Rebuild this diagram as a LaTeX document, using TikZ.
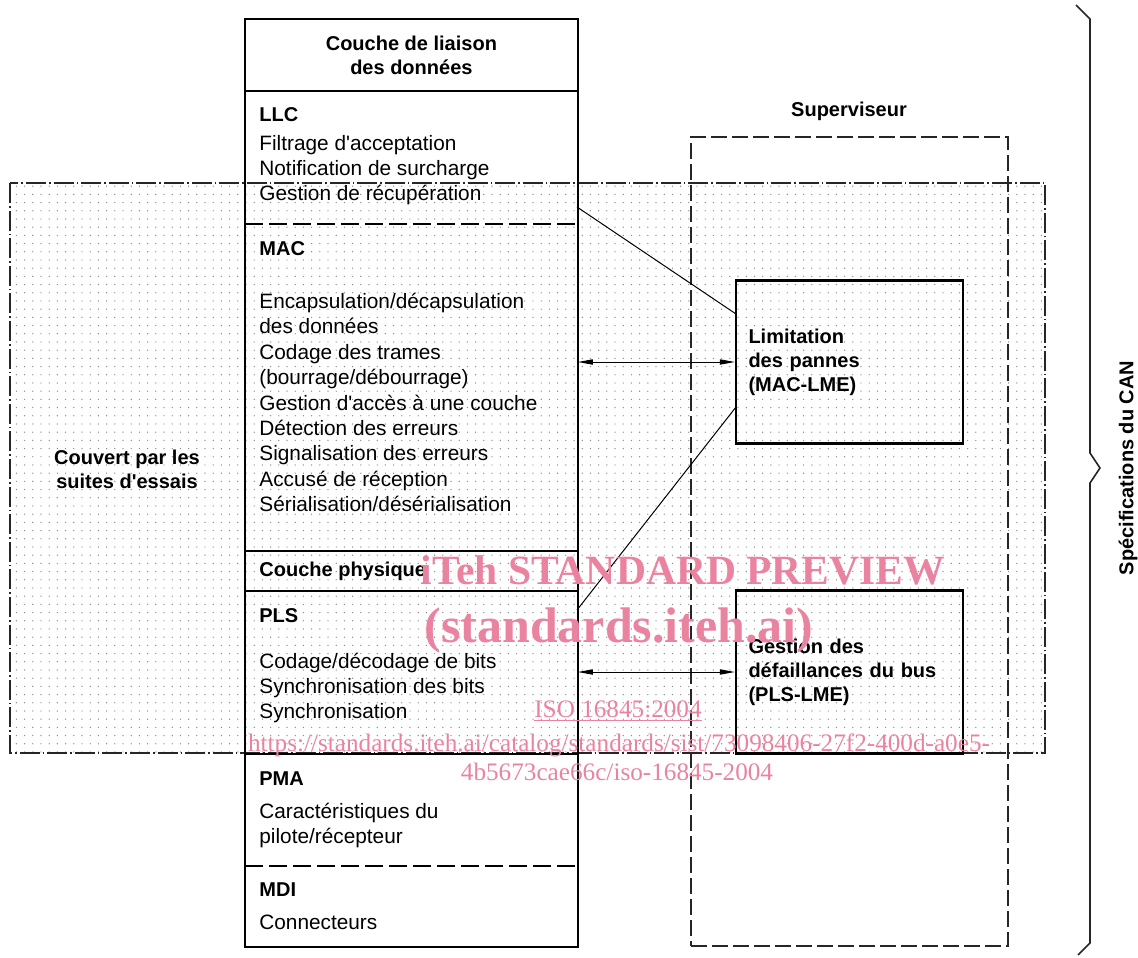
\documentclass[tikz,border=0pt]{standalone}
\usepackage{fontspec}
\setmainfont{Liberation Sans}
\newfontfamily\markfont{Liberation Serif}
\usetikzlibrary{arrows.meta,patterns.meta}
\definecolor{dotcolor}{HTML}{8A8A8A}
\definecolor{markcolor}{HTML}{E9839F}
\tikzset{
  can frame/.style={draw=black,line width=1.1pt},
  can rule/.style={draw=black,line width=1.1pt},
  can split/.style={draw=black,line width=.9pt,dash pattern=on 9pt off 3pt},
  can layer/.style={rectangle,draw=none,inner sep=0pt,minimum width=166pt,anchor=north west},
  can head/.style={font=\bfseries,anchor=base west,inner sep=0pt},
  can item/.style={anchor=base west,inner sep=0pt},
  can lme/.style={rectangle,draw=black,line width=1.1pt,minimum width=113.5pt,minimum height=81.5pt,
    text width=101pt,align=left,font=\bfseries},
  can test/.style={draw=black!85,line width=.9pt,dash pattern=on 10pt off 1.5pt on .8pt off 1.5pt,
    pattern={Dots[radius=.35pt,distance=4.1pt]},pattern color=dotcolor},
  can super/.style={draw=black!85,line width=.8pt,dash pattern=on 8pt off 2.5pt},
  can link/.style={draw=black,line width=.5pt},
  can arrow/.style={can link,{Triangle[length=7.5pt,width=2.6pt]}-{Triangle[length=7.5pt,width=2.6pt]}},
  can brace/.style={draw=black!85,line width=.8pt},
  can mark/.style={text=markcolor,inner sep=0pt}
}
\newcommand{\apo}{\textquotesingle}

\begin{document}
\begin{tikzpicture}[x=.5pt,y=-.5pt,font=\fontsize{10.4}{12.5}\selectfont]
  \useasboundingbox (0,0) rectangle (1138,957);
  % test suite area and supervisor
  \path[can test] (10,183) rectangle (1045,753);
  \node[font=\bfseries,align=center] (cover) at (127,469) {Couvert par les\\suites d\apo essais};
  \node[can super,minimum width=158.5pt,minimum height=404.5pt] (sup) at (849.5,541.5) {};
  \node[font=\bfseries] (sup-title) at (849,111) {Superviseur};
  % layer column
  \node[can layer,minimum height=35.5pt,align=center,font=\bfseries] (head) at (245,19) {Couche de liaison\\des données};
  \node[can layer,minimum height=66.5pt] (llc) at (245,90) {};
  \node[can layer,minimum height=163.5pt] (mac) at (245,223) {};
  \node[can layer,minimum height=20pt] (phy) at (245,550) {};
  \node[can layer,minimum height=81.5pt] (pls) at (245,590) {};
  \node[can layer,minimum height=56pt] (pma) at (245,753) {};
  \node[can layer,minimum height=40.5pt] (mdi) at (245,865) {};
  \draw[can frame] (head.north west) rectangle (mdi.south east);
  \foreach \a in {head,mac,phy,pls}{\draw[can rule] (\a.south west) -- (\a.south east);}
  \foreach \a in {llc,pma}{\draw[can split] (\a.south west) -- (\a.south east);}
  % layer texts
  \node[can head] (llc-title) at (259,122) {LLC};
  \foreach \txt [count=\i from 0] in {Filtrage d\apo acceptation,Notification de surcharge,Gestion de récupération}
    {\node[can item] (llc-\i) at (259,{150.5+25*\i}) {\txt};}
  \node[can head] (mac-title) at (259,255) {MAC};
  \foreach \txt [count=\i from 0] in {Encapsulation/décapsulation,des données,Codage des trames,{(bourrage/débourrage)},
      Gestion d\apo accès à une couche,Détection des erreurs,Signalisation des erreurs,Accusé de réception,
      Sérialisation/désérialisation}
    {\node[can item] (mac-\i) at (259,{308.5+25.4*\i}) {\txt};}
  \node[can head] (phy-title) at (259,576) {Couche physique};
  \node[can head] (pls-title) at (259,622) {PLS};
  \foreach \txt [count=\i from 0] in {Codage/décodage de bits,Synchronisation des bits,Synchronisation}
    {\node[can item] (pls-\i) at (259,{668.5+25*\i}) {\txt};}
  \node[can head] (pma-title) at (259,785) {PMA};
  \foreach \txt [count=\i from 0] in {Caractéristiques du,pilote/récepteur}
    {\node[can item] (pma-\i) at (259,{818.5+25*\i}) {\txt};}
  \node[can head] (mdi-title) at (259,896) {MDI};
  \node[can item] (mdi-0) at (259,929.5) {Connecteurs};
  % management entities
  \node[can lme] (lim) at (849.5,362) {Limitation\\des pannes\\(MAC-LME)};
  \node[can lme] (bus) at (849.5,672) {Gestion des\\défaillances du bus\\(PLS-LME)};
  \coordinate (llc-tap) at (577,207);
  \coordinate (lim-top) at (736,314);
  \coordinate (pls-tap) at (577,610);
  \coordinate (lim-foot) at (736,407);
  \draw[can link] (llc-tap) -- (lim-top);
  \draw[can link] (pls-tap) -- (lim-foot);
  \draw[can arrow] (mac.east |- lim.west) -- (lim.west);
  \draw[can arrow] (pls.east |- bus.west) -- (bus.west);
  % CAN specification brace
  \draw[can brace] (1076,5) -- (1090,19) -- (1090,453) -- (1100,468) -- (1090,483) -- (1090,943) -- (1078,955);
  \node[font=\bfseries,rotate=90] (spec) at (1128,468) {Spécifications du CAN};
  % preview stamp
  \node[can mark,font=\markfont\bfseries\fontsize{20.8}{24}\selectfont] (stamp-1) at (683,570) {iTeh STANDARD PREVIEW};
  \node[can mark,font=\markfont\bfseries\fontsize{25}{28}\selectfont] (stamp-2) at (619,630) {(standards.iteh.ai)};
  \node[can mark,font=\markfont\fontsize{12.6}{14}\selectfont] (stamp-3) at (618,711) {\underline{ISO 16845:2004}};
  \node[can mark,font=\markfont\fontsize{12.6}{14}\selectfont] (stamp-4) at (619,745) {https://standards.iteh.ai/catalog/standards/sist/73098406-27f2-400d-a0e5-};
  \node[can mark,font=\markfont\fontsize{12.6}{14}\selectfont] (stamp-5) at (617,772) {4b5673cae66c/iso-16845-2004};
\end{tikzpicture}
\end{document}
